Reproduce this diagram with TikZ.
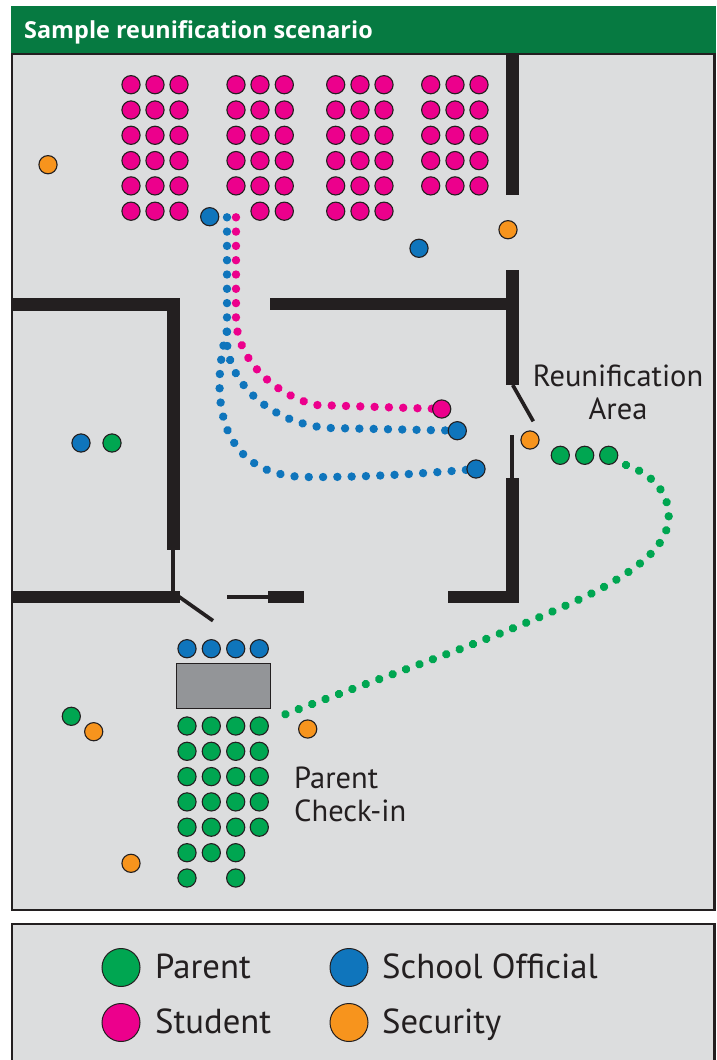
\documentclass[tikz,border=0pt]{standalone}
\usepackage{fontspec}
\setmainfont{PT Sans}
\newfontfamily\titlefont{Open Sans}
\usetikzlibrary{backgrounds,decorations.markings}
\definecolor{parentgreen}{HTML}{00A651}
\definecolor{officialblue}{HTML}{0F75BC}
\definecolor{studentpink}{HTML}{EC008C}
\definecolor{securityorange}{HTML}{F7941D}
\definecolor{panelgray}{HTML}{DCDDDE}
\definecolor{tablegray}{HTML}{939598}
\definecolor{wallblack}{HTML}{231F20}
\definecolor{headergreen}{HTML}{067A41}
\begin{document}
\begin{tikzpicture}[
        x=1pt, y=-1pt,
        person/.style={circle, draw=wallblack, line width=1.1pt, inner sep=0pt, minimum size=18.2pt},
        parent/.style={person, fill=parentgreen},
        official/.style={person, fill=officialblue},
        student/.style={person, fill=studentpink},
        security/.style={person, fill=securityorange},
        keydot/.style={circle, draw=wallblack, line width=1pt, inner sep=0pt, minimum size=38pt},
        panel/.style={draw=wallblack, line width=2.2pt, fill=panelgray},
        wall/.style={fill=wallblack},
        door/.style={draw=wallblack, line width=3.7pt},
        route/.style={decoration={markings, mark=between positions 0 and 1 step 14.3pt with {\fill[#1] (0,0) circle (4.2pt);}}, decorate},
        maplabel/.style={inner sep=0pt, text=wallblack, font=\fontsize{30.5}{33.3}\selectfont},
        keylabel/.style={inner sep=0pt, anchor=base west, text=wallblack, font=\fontsize{34.7}{34.7}\selectfont},
    ]
    \useasboundingbox (0,0) rectangle (716,1060);

    %Panels
    \begin{scope}[on background layer]
        \draw[panel] (12,53.5) rectangle (714.5,910);
        \fill[headergreen] (11,6) rectangle (715.5,52.5);
        \draw[panel] (12,1062) -- (12,924) -- (714.5,924) -- (714.5,1062);
    \end{scope}
    \node[inner sep=0pt, anchor=base west, text=white, font=\fontsize{23.4}{23.4}\titlefont\bfseries] (title) at (24,38.5) {Sample reunification scenario};

    %Walls
    \fill[wall] (505.7,53) rectangle (518.7,195);
    \fill[wall] (505.7,269.7) rectangle (518.7,385.3);
    \fill[wall] (270,297.7) rectangle (506,310.4);
    \fill[wall] (12,298) rectangle (180,311);
    \fill[wall] (166.7,298) rectangle (180,550);
    \fill[wall] (12,591) rectangle (180,603.4);
    \fill[wall] (268,591) rectangle (303.7,603.4);
    \fill[wall] (448,590.7) rectangle (518.7,603.4);
    \fill[wall] (505.7,478.3) rectangle (518.7,603.4);

    %Doors
    \draw[door] (173.3,550) -- (173.3,591);
    \draw[door] (178,596) -- (213,620.7);
    \draw[door] (227,597.3) -- (268,597.3);
    \draw[door] (512.7,385) -- (533.3,421.3);
    \draw[door] (512,435.3) -- (512,478.3);

    %Check-in table
    \node[draw=wallblack, line width=1pt, fill=tablegray, inner sep=0pt, minimum width=94pt, minimum height=45.3pt] (table) at (223,686.3) {};

    %Students in rows
    \foreach \x [count=\c] in {131,155,179,335.7,360,384}
        \foreach \r in {0,...,5}
            \node[student] (stu\c-\r) at ({\x},{84.7+25.3*\r}) {};
    \foreach \x [count=\c] in {260,284.3}
        \foreach \r in {0,...,5}
            \node[student] (mid\c-\r) at ({\x},{84.7+25.3*\r}) {};
    \foreach \r in {0,...,4} {
        \node[student] (mid0-\r) at (236,{84.7+25.3*\r}) {};
        \node[student] (far1-\r) at (430.7,{84.7+25.3*\r}) {};
        \node[student] (far2-\r) at (455,{84.7+25.3*\r}) {};
        \node[student] (far3-\r) at (479,{84.7+25.3*\r}) {};
    }

    %Parents in line
    \foreach \x [count=\c] in {187,211.3,235.7,259.3} {
        \node[official] (desk\c) at ({\x},648.7) {};
        \foreach \r in {0,...,4}
            \node[parent] (line\c-\r) at ({\x},{726+25.3*\r}) {};
    }
    \foreach \x [count=\c] in {187,211.3,235.7}
        \node[parent] (six\c) at ({\x},852.7) {};
    \node[parent] (seven1) at (187,878) {};
    \node[parent] (seven2) at (235.7,878) {};

    %Other people
    \node[official] (door) at (209.7,216.7) {};
    \node[official] (hall) at (419,248.3) {};
    \node[official] (roomoff) at (81,443) {};
    \node[parent] (roompar) at (112,443) {};
    \node[parent] (wait1) at (560.3,455.3) {};
    \node[parent] (wait2) at (584.7,455.3) {};
    \node[parent] (wait3) at (608.7,455.3) {};
    \node[parent] (lone) at (71.3,716.3) {};
    \node[security] (sec1) at (48,164.7) {};
    \node[security] (sec2) at (508,229.7) {};
    \node[security] (sec3) at (530,440) {};
    \node[security] (sec4) at (93.7,731.7) {};
    \node[security] (sec5) at (131,863.3) {};
    \node[security] (sec6) at (307.7,729) {};
    \node[student] (walkstu) at (441.7,409) {};
    \node[official] (walkoff1) at (457.3,430.7) {};
    \node[official] (walkoff2) at (476,469) {};

    %Labels
    \node[maplabel, align=center, anchor=base] (reunion) at (618,419.3) {Reunification\\Area};
    \node[maplabel, align=left, anchor=base west] (checkin) at (294,821.7) {Parent\\Check-in};

    %Key
    \node[keydot, fill=parentgreen] (keypar) at (121,967.5) {};
    \node[keydot, fill=officialblue] (keyoff) at (349,967.5) {};
    \node[keydot, fill=studentpink] (keystu) at (121,1022.5) {};
    \node[keydot, fill=securityorange] (keysec) at (349,1022.5) {};
    \node[keylabel] (txtpar) at (155,978) {Parent};
    \node[keylabel] (txtoff) at (382,978) {School Official};
    \node[keylabel] (txtstu) at (155,1033) {Student};
    \node[keylabel] (txtsec) at (382,1033) {Security};

    %Lines
    \coordinate (pinkstart) at (236,217.3);
    \coordinate (bluestart) at (227,217.3);
    \coordinate (bluefork) at (226.7,331.7);
    \coordinate (greenstart) at (626,465);
    \coordinate (greenend) at (280,716.3);
    \begin{scope}[on background layer]
        \path[route=studentpink] (pinkstart) -- (236,317) .. controls (236,360) and (275,395) .. (316,405) -- (walkstu.center);
        \path[route=officialblue] (bluestart) -- (227,340) .. controls (227,385) and (275,425) .. (330,428) -- (walkoff1.center);
        \path[route=officialblue] (bluefork) .. controls (215,375) and (205,475) .. (305.7,477) .. controls (360,477.5) and (420,474) .. (walkoff2.center);
        \path[route=parentgreen] (greenstart) .. controls (655,475) and (668.7,495) .. (668.7,516) .. controls (668.7,545) and (640,568) .. (594,592.3) .. controls (500,638) and (400,670) .. (greenend);
    \end{scope}
\end{tikzpicture}
\end{document}
